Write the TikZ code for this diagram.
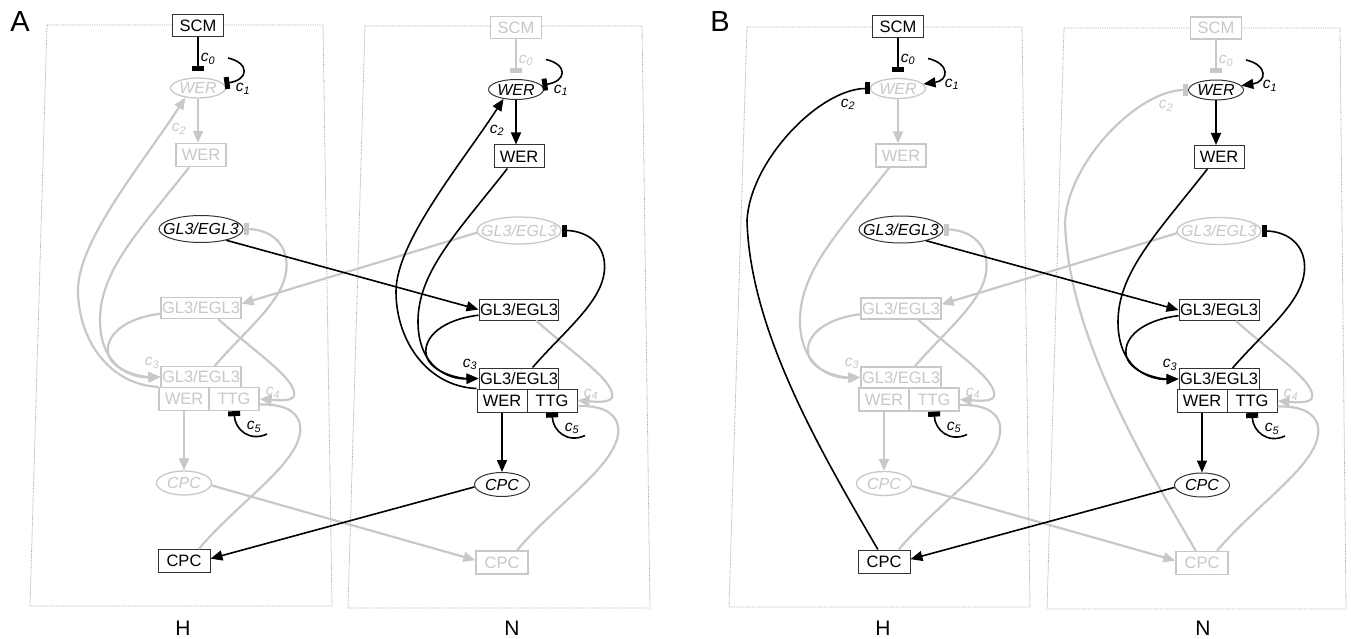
\documentclass[tikz,border=0pt]{standalone}
\usepackage{fontspec}
\setmainfont{Liberation Sans}
\usetikzlibrary{arrows.meta,shapes.geometric}
\definecolor{lg}{RGB}{200,200,200}
\definecolor{fr}{RGB}{160,160,160}
\newcommand\cl[1]{\textit{c}\textsubscript{\textit{#1}}}
\tikzset{
 box on/.style={draw=black!80, line width=1pt, fill=white, text=black, rectangle, inner sep=1pt, font=\fontsize{16.5}{19}\selectfont},
 box off/.style={draw=lg, line width=1.3pt, fill=white, text=lg, rectangle, inner sep=1pt, font=\fontsize{16.5}{19}\selectfont},
 ell on/.style={draw=black!80, line width=1pt, fill=white, text=black, ellipse, inner sep=0pt, font=\fontsize{16}{19}\selectfont\itshape},
 ell off/.style={draw=lg, line width=1.3pt, fill=white, text=lg, ellipse, inner sep=0pt, font=\fontsize{16}{19}\selectfont\itshape},
 lab on/.style={text=black, inner sep=0pt, font=\fontsize{15.5}{17}\selectfont},
 lab off/.style={text=lg, inner sep=0pt, font=\fontsize{15.5}{17}\selectfont},
 tiparr/.style={-{Triangle[length=12pt,width=10pt]}},
 tipbar/.style={-{Rectangle[length=5pt,width=12pt]}},
 frame/.style={draw=fr, densely dotted, line width=0.8pt},
 ln on/.style={draw=black, line width=1.6pt},
 ln off/.style={draw=lg, line width=2.2pt},
}
% #1 prefix, #2 dx, #3 dy, #4 group1 state, #5 group2 state, #6 c1 label pos, #7 c2 label pos, #8 c2 label state
\newcommand\cellnodes[8]{%
\begin{scope}[shift={(#2,#3)}, name prefix=#1-]
\node[box #4, minimum width=51pt, minimum height=22pt] (SCM) at (198,26) {SCM};
\node[ell #5, minimum width=55pt, minimum height=20pt] (WERe) at (198,88) {\makebox[0pt]{WER}};
\node[box #5, minimum width=50pt, minimum height=23pt] (WERb) at (201,155) {WER};
\node[ell #4, minimum width=84pt, minimum height=27pt] (GLe) at (201,229) {\makebox[0pt]{GL3/EGL3}};
\node[box #5, minimum width=79pt, minimum height=21pt] (GLu) at (201,308) {GL3/EGL3};
\node[box #5, minimum width=79pt, minimum height=21pt] (GLl) at (201,377) {GL3/EGL3};
\node[box #5, minimum width=50pt, minimum height=23pt] (WERc) at (184,399) {WER};
\node[box #5, minimum width=50pt, minimum height=23pt] (TTGc) at (234,399) {TTG};
\node[ell #5, minimum width=55pt, minimum height=24pt] (CPCe) at (184,483) {\makebox[0pt]{CPC}};
\node[box #4, minimum width=52pt, minimum height=23pt] (CPCb) at (184,561) {CPC};
\node[lab #4] (l0) at (208,59) {\cl{0}};
\node[lab on] (l1) at (#6) {\cl{1}};
\node[lab #8] (l2) at (#7) {\cl{2}};
\node[lab #5] (l3) at (152,363) {\cl{3}};
\node[lab off] (l4) at (273,393) {\cl{4}};
\node[lab on] (l5) at (254,427) {\cl{5}};
\coordinate (c1s) at (228,58);
\coordinate (c5s) at (267,434);
\end{scope}}
\newcommand\celledges[5]{%
\begin{scope}[shift={(#2,#3)}, name prefix=#1-]
\draw[ln #4, tipbar, shorten >=6pt] (SCM.south) -- (WERe.north);
\draw[ln #5, tiparr] (WERe.south) -- (WERe.south |- WERb.north);
\draw[ln #5, tiparr] (WERb.-134) .. controls (140,230) and (100,270) .. (100,320) .. controls (100,365) and (130,378) .. (GLl.west);
\draw[ln #5, tiparr] (GLu.188) .. controls (125,318) and (106,335) .. (108,352) .. controls (110,370) and (140,377) .. (GLl.west);
\draw[ln #5, tipbar] (GLl.39) .. controls (250,325) and (292,295) .. (286,258) .. controls (282,236) and (262,229) .. (GLe.east);
\draw[ln off, tiparr] (GLu.-33) .. controls (255,352) and (298,380) .. (294,396) .. controls (291,402) and (275,400) .. (TTGc.east);
\draw[ln off] (CPCb.39) .. controls (240,500) and (305,460) .. (300,425) .. controls (297,408) and (278,404) .. (TTGc.-12);
\draw[ln on, tipbar] (c5s) .. controls (250,442) and (235,430) .. (TTGc.south);
\draw[ln #5, tiparr] (WERc.south) -- (CPCe.north);
\end{scope}}
\newcommand\edgesA[5]{%
\begin{scope}[shift={(#2,#3)}, name prefix=#1-]
\draw[ln on, tipbar, shorten >=1pt] (c1s) .. controls (250,63) and (249,80) .. (WERe.10);
\draw[ln #5, tiparr] (WERc.north west) .. controls (110,385) and (78,340) .. (78,290) .. controls (78,240) and (145,160) .. (WERe.-143);
\end{scope}}
\newcommand\edgesB[5]{%
\begin{scope}[shift={(#2,#3)}, name prefix=#1-]
\draw[ln on, tiparr] (c1s) .. controls (250,63) and (249,80) .. (WERe.10);
\draw[ln #4, tipbar] (CPCb.117) .. controls (120,450) and (50,330) .. (47,220) .. controls (50,160) and (120,88) .. (WERe.west);
\end{scope}}
\newcommand\crossedges[2]{%
\draw[ln on, tiparr] (#1-GLe.-24) -- (#2-GLu.west);
\draw[ln off, tiparr] (#2-GLe.183) -- (#1-GLu.6);
\draw[ln on, tiparr] (#2-CPCe.185) -- (#1-CPCb.5);
\draw[ln off, tiparr] (#1-CPCe.-5) -- (#2-CPCb.175);}
\newcommand\alledges{%
\celledges{ah}{0}{0}{on}{off}\edgesA{ah}{0}{0}{on}{off}%
\celledges{an}{318}{1.5}{off}{on}\edgesA{an}{318}{1.5}{off}{on}%
\crossedges{ah}{an}%
\celledges{bh}{700}{0.5}{on}{off}\edgesB{bh}{700}{0.5}{on}{off}%
\celledges{bn}{1018}{2}{off}{on}\edgesB{bn}{1018}{2}{off}{on}%
\crossedges{bh}{bn}}
\begin{document}
\begin{tikzpicture}[x=1pt, y=-1pt]
\path[use as bounding box] (0,0) rectangle (1351,639);
\draw[frame] (47,25) -- (323,25) -- (332,606) -- (30,606) -- cycle;
\draw[frame] (365,26) -- (642,26) -- (650,608) -- (348,608) -- cycle;
\draw[frame] (747,27) -- (1022,27) -- (1030,607) -- (729,607) -- cycle;
\draw[frame] (1064,28) -- (1340,28) -- (1346,609) -- (1047,609) -- cycle;
\node[font=\fontsize{29}{30}\selectfont, inner sep=0pt] (pA) at (20,22) {A};
\node[font=\fontsize{29}{30}\selectfont, inner sep=0pt] (pB) at (720,22) {B};
\node[font=\fontsize{21}{22}\selectfont, inner sep=0pt] (hA) at (183,628) {H};
\node[font=\fontsize{21}{22}\selectfont, inner sep=0pt] (nA) at (512,628) {N};
\node[font=\fontsize{21}{22}\selectfont, inner sep=0pt] (hB) at (883,628) {H};
\node[font=\fontsize{21}{22}\selectfont, inner sep=0pt] (nB) at (1203,628) {N};
\cellnodes{ah}{0}{0}{on}{off}{243,89}{179,129}{off}
\cellnodes{an}{318}{1.5}{off}{on}{243,89}{179,129}{on}
\cellnodes{bh}{700}{0.5}{on}{off}{252,84}{148,104}{on}
\cellnodes{bn}{1018}{2}{off}{on}{252,84}{148,104}{off}
\tikzset{ln on/.style={draw=none}, ln off/.style={draw=lg, line width=2.2pt}}
\alledges
\tikzset{ln on/.style={draw=black, line width=1.6pt}, ln off/.style={draw=none}}
\alledges
\end{tikzpicture}
\end{document}
